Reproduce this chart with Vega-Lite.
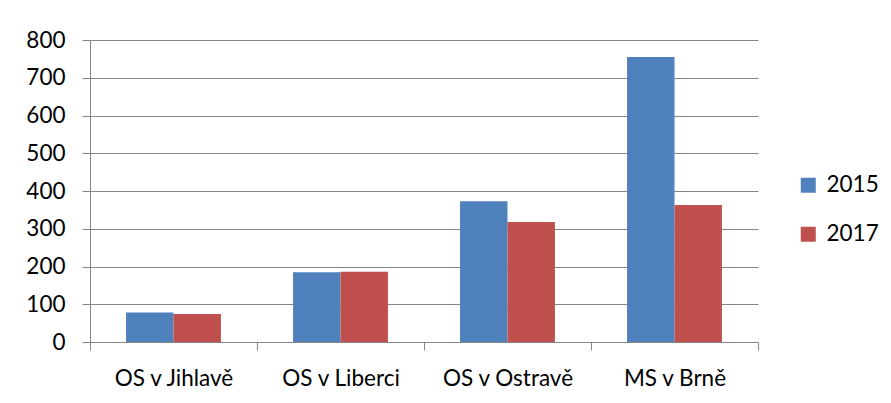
{
  "$schema": "https://vega.github.io/schema/vega-lite/v6.json",
  "width": 668,
  "height": 302,
  "autosize": {"type": "none"},
  "padding": {"left": 90, "top": 40, "right": 133, "bottom": 61},
  "background": "white",
  "config": {"view": {"stroke": null}, "font": "Lato"},
  "data": {
    "values": [
      {"court": "OS v Jihlavě", "year": "2015", "value": 78},
      {"court": "OS v Jihlavě", "year": "2017", "value": 74},
      {"court": "OS v Liberci", "year": "2015", "value": 185},
      {"court": "OS v Liberci", "year": "2017", "value": 186},
      {"court": "OS v Ostravě", "year": "2015", "value": 373},
      {"court": "OS v Ostravě", "year": "2017", "value": 318},
      {"court": "MS v Brně", "year": "2015", "value": 755},
      {"court": "MS v Brně", "year": "2017", "value": 363}
    ]
  },
  "mark": {"type": "bar"},
  "encoding": {
    "x": {
      "field": "court",
      "type": "nominal",
      "sort": null,
      "scale": {"paddingInner": 0, "paddingOuter": 0},
      "axis": {
        "title": null,
        "labelAngle": 0,
        "tickBand": "extent",
        "tickSize": 8,
        "tickColor": "#868686",
        "domainColor": "#868686",
        "labelFontSize": 22.5,
        "labelColor": "#000000",
        "labelPadding": 17,
        "grid": false
      }
    },
    "xOffset": {
      "field": "year",
      "type": "nominal",
      "scale": {"paddingInner": 0, "paddingOuter": 0.76}
    },
    "y": {
      "field": "value",
      "type": "quantitative",
      "scale": {"domain": [0, 800], "nice": false},
      "axis": {
        "title": null,
        "values": [0, 100, 200, 300, 400, 500, 600, 700, 800],
        "tickSize": 8,
        "tickColor": "#868686",
        "domainColor": "#868686",
        "gridColor": "#868686",
        "gridOpacity": 1,
        "labelFontSize": 22.5,
        "labelColor": "#000000",
        "labelPadding": 17
      }
    },
    "color": {
      "field": "year",
      "type": "nominal",
      "scale": {"range": ["#4F81BD", "#C0504D"]},
      "legend": {
        "title": null,
        "orient": "none",
        "legendX": 707,
        "legendY": 134,
        "symbolType": "square",
        "symbolSize": 225,
        "symbolStrokeWidth": 0,
        "labelFontSize": 22.5,
        "labelColor": "#000000",
        "labelOffset": 7,
        "rowPadding": 26
      }
    }
  }
}
